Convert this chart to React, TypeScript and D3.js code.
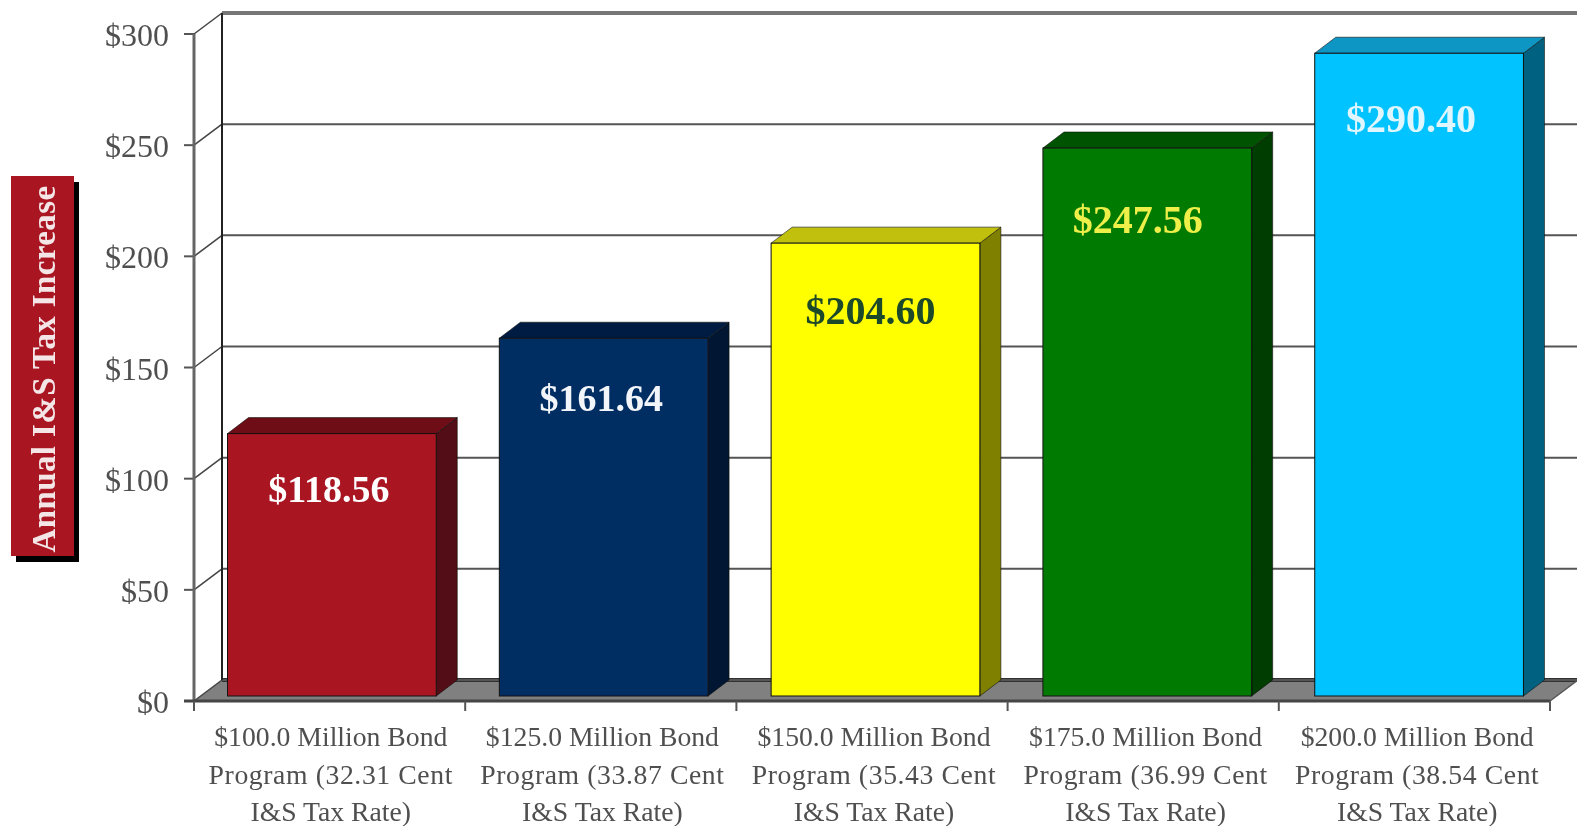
import React from 'react';
import * as d3 from 'd3';

const categories = ['$100.0 Million Bond', '$125.0 Million Bond', '$150.0 Million Bond', '$175.0 Million Bond', '$200.0 Million Bond'];
const rateLines = ['Program (32.31 Cent', 'Program (33.87 Cent', 'Program (35.43 Cent', 'Program (36.99 Cent', 'Program (38.54 Cent'];
const values = [118.56, 161.64, 204.6, 247.56, 290.4];
const valueLabels = ['$118.56', '$161.64', '$204.60', '$247.56', '$290.40'];
const yTicks = [0, 50, 100, 150, 200, 250, 300];

const frontColors = ['#a91524', '#002e64', '#ffff00', '#007a00', '#00c3ff'];
const sideColors = ['#520a12', '#001630', '#808000', '#003c00', '#006280'];
const topColors = ['#6e0e18', '#001e42', '#c0c010', '#005200', '#0a96c4'];
const labelColors = ['#ffffff', '#f2f6fa', '#1f4a2a', '#eef04a', '#dff6ff'];
// how far below the bar top each value label sits
const labelDrops = [68, 73, 81, 85, 79];
const labelShift = [-2, -1.5, -4, -8.5, -7];
const labelSizes = [38, 38, 40, 40, 40];

const serif = '"Liberation Serif", serif';
const W = 1577, H = 826;
const axisLeft = 194, axisRight = 1550, axisBottom = 701, axisTop = 34;
const wallDx = 28, wallDy = 21;
const barDx = 21, barDy = 16;

const y = d3.scaleLinear().domain([0, 300]).range([axisBottom, axisTop]);
const yBar = d3.scaleLinear().domain([0, 300]).range([696, 32]);
const xTick = d3.scaleLinear().domain([0, categories.length]).range([axisLeft, axisRight]);
const xLabel = d3.scaleLinear().domain([0, categories.length]).range([axisLeft + 1, axisRight + 3]);
const xBar = d3.scaleBand<number>()
  .domain(d3.range(categories.length))
  .range([196, 1555])
  .paddingInner(0.232)
  .paddingOuter(0.116);

const poly = (pts: number[][]) => d3.line()(pts as [number, number][]) + 'Z';

export default function App() {
  const bw = xBar.bandwidth();
  return (
    <svg width={W} height={H} style={{ position: 'absolute', left: 0, top: 0, background: '#fff' }}>
      <defs>
        <filter id="soft" x="-2%" y="-2%" width="104%" height="104%">
          <feGaussianBlur stdDeviation="0.6" />
        </filter>
      </defs>
      <g filter="url(#soft)">
        {/* floor */}
        <path
          d={poly([[axisLeft, axisBottom], [axisLeft + wallDx, axisBottom - wallDy], [axisRight + wallDx, axisBottom - wallDy], [axisRight, axisBottom]])}
          fill="#808080"
        />
        <line x1={axisLeft + wallDx} x2={W} y1={axisBottom - wallDy} y2={axisBottom - wallDy} stroke="#333" strokeWidth={4} />

        {/* wall gridlines with the slanted part on the side wall */}
        {yTicks.map((t) => (
          <g key={t}>
            <line x1={axisLeft + wallDx} x2={W} y1={y(t) - wallDy} y2={y(t) - wallDy} stroke={t === 300 ? '#777' : '#555'} strokeWidth={t === 300 ? 4 : 2} />
            <line x1={axisLeft} x2={axisLeft + wallDx} y1={y(t)} y2={y(t) - wallDy} stroke="#444" strokeWidth={1.5} />
            <line x1={axisLeft - 10} x2={axisLeft} y1={y(t)} y2={y(t)} stroke="#555" strokeWidth={2} />
            <text x={169} y={y(t) + 12} textAnchor="end" fontFamily={serif} fontSize={32} fill="#4f4f4f">
              {d3.format('$')(t)}
            </text>
          </g>
        ))}
        <line x1={axisLeft + wallDx} x2={axisLeft + wallDx} y1={axisTop - wallDy} y2={axisBottom - wallDy} stroke="#222" strokeWidth={2} />
        <line x1={axisLeft} x2={axisLeft} y1={axisTop} y2={axisBottom} stroke="#666" strokeWidth={3} />

        {/* bars */}
        {values.map((v, i) => {
          const x0 = xBar(i) as number;
          const x1 = x0 + bw;
          const top = yBar(v);
          const bottom = yBar(0);
          return (
            <g key={i}>
              <path d={poly([[x1, top], [x1 + barDx, top - barDy], [x1 + barDx, bottom - barDy], [x1, bottom]])} fill={sideColors[i]} stroke="#111" strokeWidth={0.6} />
              <path d={poly([[x0, top], [x0 + barDx, top - barDy], [x1 + barDx, top - barDy], [x1, top]])} fill={topColors[i]} stroke="#111" strokeWidth={0.6} />
              <rect x={x0} y={top} width={bw} height={bottom - top} fill={frontColors[i]} stroke="#111" strokeWidth={1} />
              <text
                x={x0 + bw / 2 - 1 + labelShift[i]}
                y={top + labelDrops[i]}
                textAnchor="middle"
                fontFamily={serif}
                fontWeight="bold"
                fontSize={labelSizes[i]}
                fill={labelColors[i]}
              >
                {valueLabels[i]}
              </text>
            </g>
          );
        })}

        {/* front axis */}
        <line x1={axisLeft - 10} x2={axisRight} y1={axisBottom} y2={axisBottom} stroke="#444" strokeWidth={3} />
        <line x1={axisRight} x2={axisRight + wallDx} y1={axisBottom} y2={axisBottom - wallDy} stroke="#555" strokeWidth={1.5} />
        {d3.range(categories.length + 1).map((i) => (
          <line key={i} x1={xTick(i)} x2={xTick(i)} y1={axisBottom} y2={axisBottom + 10} stroke="#555" strokeWidth={2} />
        ))}
        {categories.map((c, i) => {
          const cx = (xLabel(i) + xLabel(i + 1)) / 2;
          return (
            <text key={c} textAnchor="middle" fontFamily={serif} fontSize={27.7} fill="#4f4f4f">
              <tspan x={cx} y={746}>{c}</tspan>
              <tspan x={cx} y={784} letterSpacing={0.6}>{rateLines[i]}</tspan>
              <tspan x={cx} y={821}>I&amp;S Tax Rate)</tspan>
            </text>
          );
        })}

        {/* axis title box */}
        <rect x={16} y={182} width={63} height={380} fill="#000" />
        <rect x={11} y={176} width={63} height={380} fill="#a91524" />
        <text
          transform="translate(55,369) rotate(-90)"
          textAnchor="middle"
          fontFamily={serif}
          fontWeight="bold"
          fontSize={33}
          letterSpacing={0.4}
          fill="#f4e6e6"
        >
          Annual I&amp;S Tax Increase
        </text>
      </g>
    </svg>
  );
}
